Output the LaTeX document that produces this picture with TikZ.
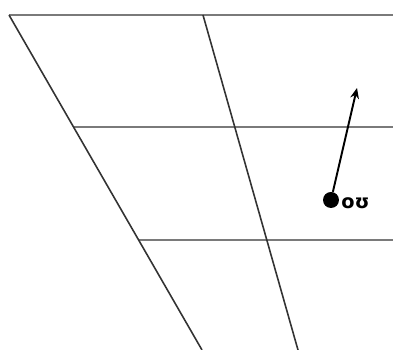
\documentclass[tikz,border=0pt]{standalone}
\usepackage{fontspec}
\usepackage{tikz}
\usetikzlibrary{positioning, arrows.meta, calc}
\newfontfamily\ipafont{DejaVu Sans}
\definecolor{gridgray}{HTML}{7A7A7A}
\definecolor{edgegray}{HTML}{333333}

\begin{document}
\begin{tikzpicture}[x=0.02cm, y=-0.02cm, font=\ipafont\bfseries\fontsize{11}{13}\selectfont]
\useasboundingbox (0,0) rectangle (393,350);
% frame of the chart
\coordinate (tl) at (9,15);
\coordinate (tm) at (203,15);
\coordinate (tr) at (393,15);
\coordinate (bl) at (202,350);
\coordinate (bm) at (298,350);
\draw[gridgray, line width=1.2pt] (tl) -- (tr);
\draw[gridgray, line width=1.2pt] (74,127) -- (393,127);
\draw[gridgray, line width=1.2pt] (139,240) -- (393,240);
\draw[edgegray, line width=0.9pt] (tl) -- (bl);
\draw[edgegray, line width=0.9pt] (tm) -- (bm);
% vowel and its movement
\node[circle, fill=black, inner sep=0pt, minimum size=0.32cm] (dot) at (331,200) {};
\node[right=0pt of dot, inner sep=1pt, yshift=-2pt] (vowel) {oʊ};
\coordinate (goal) at (357,88);
\draw[-{Stealth[length=6pt, width=5pt]}, line width=1.1pt] (dot) -- (goal);
\end{tikzpicture}
\end{document}
